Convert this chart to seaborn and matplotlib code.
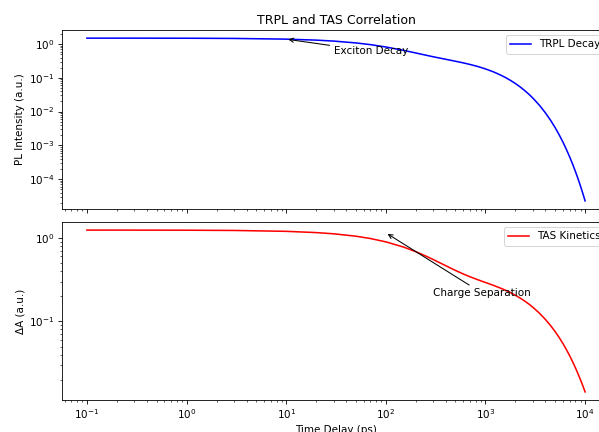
import numpy as np
import pandas as pd
import matplotlib
matplotlib.use("Agg")
import matplotlib.pyplot as plt
import seaborn as sns

# Time delays (ps)
time_ps = [0.1, 0.3, 1, 3, 10, 20, 30, 50, 70, 100, 150, 200, 250, 300, 400, 500, 600, 700, 850,
           1000, 1200, 1400, 1600, 1800, 2000, 2250, 2500, 2750, 3000, 3500, 4000, 4500,
           5000, 5500, 6000, 6500, 7000, 7500, 8000, 8500, 9000, 9500, 10000]

# TRPL intensity (a.u.)
trpl_values = [1.499, 1.497, 1.490, 1.469, 1.400, 1.309, 1.226, 1.082, 0.963, 0.820, 0.654,
               0.545, 0.4715, 0.420, 0.354, 0.310, 0.2769, 0.249, 0.2139,
               0.1839, 0.1506, 0.1233, 0.1009, 0.0826, 0.0677, 0.0527, 0.0410, 0.0320,
               0.0249, 0.0151, 0.00916, 0.00555, 0.00337, 0.00204, 0.00124, 0.000752,
               0.000456, 0.000277, 0.000168, 0.000102, 6.17e-5, 3.74e-5, 2.27e-5]

# TAS kinetics dA (a.u.)
tas_values = [1.2396, 1.2387, 1.2357, 1.2271, 1.1977, 1.1574, 1.1190, 1.0476, 0.9827, 0.8963,
              0.7773, 0.6832, 0.6087, 0.5493, 0.4638, 0.4075, 0.3693, 0.3422, 0.3133,
              0.2923, 0.2702, 0.2516, 0.2349, 0.2196, 0.2054, 0.1889, 0.1738, 0.1599,
              0.1472, 0.1245, 0.1054, 0.0892, 0.0756, 0.0640, 0.0541, 0.0458,
              0.0388, 0.0328, 0.0278, 0.0235, 0.0199, 0.0169, 0.0143]

title = "TRPL and TAS Correlation"
trpl_label = "TRPL Decay"
tas_label = "TAS Kinetics"

df = pd.DataFrame({"t": time_ps, "trpl": trpl_values, "tas": tas_values})

W, H = 599, 432
fig = plt.figure(figsize=(W / 75, H / 75), dpi=75)
ax1 = fig.add_axes([62 / W, 1 - 209 / H, 548 / W, 179 / H])
ax2 = fig.add_axes([62 / W, 1 - 400 / H, 548 / W, 178 / H], sharex=ax1)

sns.lineplot(data=df, x="t", y="trpl", color="blue", label=trpl_label, ax=ax1)
sns.lineplot(data=df, x="t", y="tas", color="red", label=tas_label, ax=ax2)

for ax in (ax1, ax2):
    ax.set_xscale("log")
    ax.set_yscale("log")
    ax.legend(loc="upper right")

ax1.tick_params(labelbottom=False)
ax1.set_xlabel("")
ax1.set_ylabel("PL Intensity (a.u.)")
ax1.set_title(title)
ax2.set_xlabel("Time Delay (ps)")
ax2.set_ylabel("ΔA (a.u.)")

ax1.annotate("Exciton Decay", xy=(10, 1.4), xytext=(30, 0.5),
             arrowprops=dict(arrowstyle="->", color="black"))
ax2.annotate("Charge Separation", xy=(100, 1.15), xytext=(300, 0.2),
             arrowprops=dict(arrowstyle="->", color="black"))

fig.savefig("out.png", dpi=75)
